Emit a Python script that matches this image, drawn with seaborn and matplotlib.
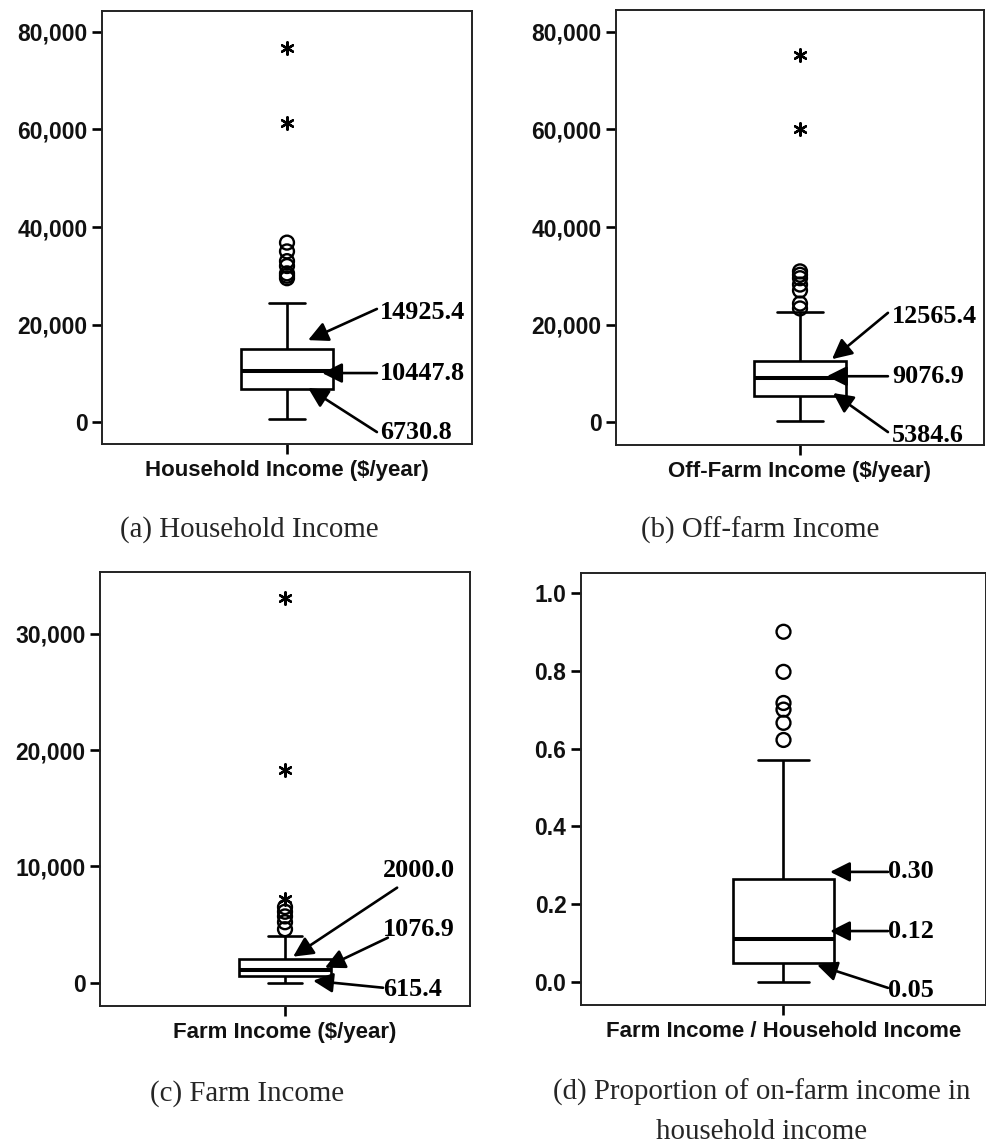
import numpy as np
import matplotlib
matplotlib.use("Agg")
import matplotlib.pyplot as plt
import seaborn as sns
from matplotlib.ticker import FuncFormatter

# ---------------- data ----------------
# five-number box summaries: lower whisker, Q1, median, Q3, upper whisker
household_box = [700, 6730.8, 10447.8, 14925.4, 24500]
household_circles = [29500, 30000, 30500, 32000, 33000, 35000, 36800]
household_stars = [61300, 76700]

offfarm_box = [300, 5384.6, 9076.9, 12565.4, 22600]
offfarm_circles = [23300, 24300, 27000, 28200, 29500, 30200, 30900]
offfarm_stars = [60000, 75300]

farm_box = [0, 615.4, 1076.9, 2000.0, 4000]
farm_circles = [4600, 5200, 5700, 6100, 6500]
farm_stars = [7200, 18300, 33100]

share_box = [0.0, 0.05, 0.11, 0.265, 0.57]
share_circles = [0.622, 0.666, 0.70, 0.717, 0.797, 0.90]
share_stars = []

axis_labels = ["Household Income ($/year)", "Off-Farm Income ($/year)",
               "Farm Income ($/year)", "Farm Income / Household Income"]
captions = ["(a) Household Income", "(b) Off-farm Income",
            "(c) Farm Income", "(d) Proportion of on-farm income in\nhousehold income"]
annot_household = ["14925.4", "10447.8", "6730.8"]
annot_offfarm = ["12565.4", "9076.9", "5384.6"]
annot_farm = ["2000.0", "1076.9", "615.4"]
annot_share = ["0.30", "0.12", "0.05"]

yticks_income = [0, 20000, 40000, 60000, 80000]
yticks_farm = [0, 10000, 20000, 30000]
yticks_share = [0.0, 0.2, 0.4, 0.6, 0.8, 1.0]

# ---------------- layout ----------------
W, H = 987, 1146
sns.set_theme(style="white")
plt.rcParams["font.family"] = ["Liberation Sans", "DejaVu Sans"]

fig = plt.figure(figsize=(W / 100, H / 100), dpi=100)
fig.patch.set_facecolor("white")


def rect(l, t, r, b):
    return [l / W, 1 - b / H, (r - l) / W, (b - t) / H]


comma = FuncFormatter(lambda v, p: f"{v:,.0f}")
onedec = FuncFormatter(lambda v, p: f"{v:.1f}")

# annotation geometry: (text_xfrac, text_y, tail_xfrac, tail_y, tip_xfrac, tip_y)
panels = [
    dict(rect=rect(102, 11, 472, 444), box=household_box, circ=household_circles,
         stars=household_stars, ylim=(-4500, 84300), yticks=yticks_income, fmt=comma,
         capw=0.195, xlabel=axis_labels[0], texts=annot_household,
         geom=[(0.751, 22400, 0.743, 23200, 0.557, 16800),
               (0.751, 10050, 0.743, 10050, 0.595, 10050),
               (0.751, -2050, 0.743, -2050, 0.557, 7000)]),
    dict(rect=rect(616, 10, 984, 445), box=offfarm_box, circ=offfarm_circles,
         stars=offfarm_stars, ylim=(-4700, 84500), yticks=yticks_income, fmt=comma,
         capw=0.245, xlabel=axis_labels[1], texts=annot_offfarm,
         geom=[(0.750, 21700, 0.739, 22400, 0.587, 12900),
               (0.750, 9400, 0.739, 9400, 0.573, 9400),
               (0.750, -2700, 0.739, -2050, 0.590, 5950)]),
    dict(rect=rect(100, 572, 470, 1006), box=farm_box, circ=farm_circles,
         stars=farm_stars, ylim=(-2000, 35300), yticks=yticks_farm, fmt=comma,
         capw=0.185, xlabel=axis_labels[2], texts=annot_farm,
         geom=[(0.765, 9630, 0.803, 8170, 0.522, 2240),
               (0.765, 4560, 0.778, 3870, 0.608, 1290),
               (0.765, -600, 0.765, -430, 0.576, 170)]),
    dict(rect=rect(581, 573, 986, 1005), box=share_box, circ=share_circles,
         stars=share_stars, ylim=(-0.059, 1.051), yticks=yticks_share, fmt=onedec,
         capw=0.247, xlabel=axis_labels[3], texts=annot_share,
         geom=[(0.758, 0.283, 0.758, 0.283, 0.615, 0.283),
               (0.758, 0.131, 0.758, 0.131, 0.615, 0.131),
               (0.758, -0.021, 0.758, -0.015, 0.583, 0.044)]),
]

for p in panels:
    ax = fig.add_axes(p["rect"])
    sns.boxplot(y=p["box"], whis=(0, 100), width=0.5, color="white", saturation=1,
                linecolor="black", linewidth=1.9, fliersize=0, ax=ax,
                capwidths=p["capw"], medianprops=dict(linewidth=2.9))
    sns.scatterplot(x=np.zeros(len(p["circ"])), y=p["circ"], marker="o", s=100,
                    facecolor="none", edgecolor="black", linewidth=1.7, ax=ax,
                    zorder=5)
    if len(p["stars"]):
        sns.scatterplot(x=np.zeros(len(p["stars"])), y=p["stars"], marker=(6, 2, 0),
                        s=80, color="black", edgecolor="black", linewidth=1.7, ax=ax,
                        zorder=5)
    ax.set_xlim(-1, 1)
    ax.set_ylim(*p["ylim"])
    ax.set_yticks(p["yticks"])
    ax.yaxis.set_major_formatter(p["fmt"])
    ax.set_xticks([0])
    ax.set_xticklabels([p["xlabel"]])
    ax.set_xlabel("")
    ax.set_ylabel("")
    ax.tick_params(axis="both", direction="out", length=7.5, width=1.9, color="black",
                   labelsize=16.5, pad=3, left=True, bottom=True)
    ax.tick_params(axis="x", labelsize=16, pad=4)
    for lab in ax.get_yticklabels() + ax.get_xticklabels():
        lab.set_fontweight("bold")
        lab.set_color("#111111")
    for s in ax.spines.values():
        s.set_visible(True)
        s.set_color("#222222")
        s.set_linewidth(1.4)
    ax.grid(False)

    tr = ax.get_yaxis_transform()
    for txt, (tx, ty, ax0, ay0, ax1, ay1) in zip(p["texts"], p["geom"]):
        ax.annotate("", xy=(ax1, ay1), xycoords=tr, xytext=(ax0, ay0), textcoords=tr,
                    arrowprops=dict(arrowstyle="-|>", mutation_scale=30, lw=1.9,
                                    color="black", shrinkA=0, shrinkB=0),
                    zorder=6)
        ax.text(tx, ty, txt, transform=tr, ha="left", va="center", fontsize=18.8,
                fontweight="bold", family=["Liberation Serif", "DejaVu Serif"],
                color="black", zorder=7)

# captions
cap_pos = [(249, 530), (760, 530), (247, 1094), (762, 1112)]
for (cx, cy), c in zip(cap_pos, captions):
    fig.text(cx / W, 1 - cy / H, c, ha="center", va="center", fontsize=20.8,
             family=["Liberation Serif", "DejaVu Serif"], linespacing=1.65)

fig.savefig("out.png", dpi=100, facecolor="white")
